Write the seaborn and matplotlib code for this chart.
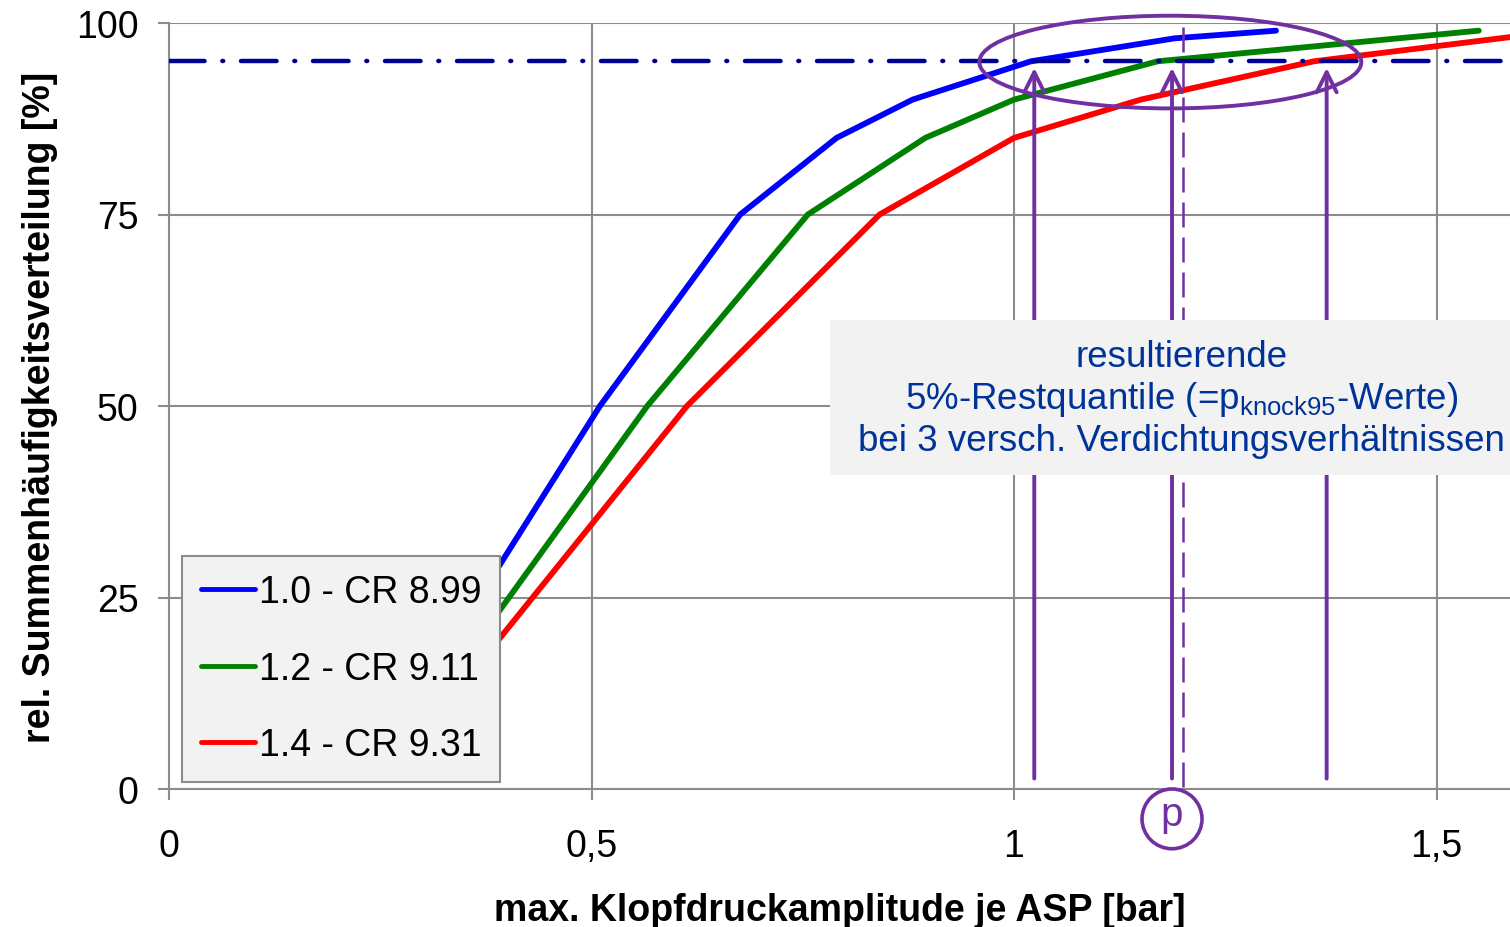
import matplotlib
matplotlib.use("Agg")
import matplotlib.pyplot as plt
import seaborn as sns
from matplotlib.patches import Ellipse, Rectangle

# curve data (first point is hidden behind the legend)
x_cr899 = [0.35, 0.51, 0.676, 0.79, 0.88, 1.02, 1.19, 1.31]
y_cr899 = [22, 50, 75, 85, 90, 95, 98, 99]
x_cr911 = [0.35, 0.566, 0.756, 0.895, 1.0, 1.17, 1.55]
y_cr911 = [17, 50, 75, 85, 90, 95, 99]
x_cr931 = [0.35, 0.613, 0.841, 1.0, 1.15, 1.355, 1.59]
y_cr931 = [14, 50, 75, 85, 90, 95, 98.2]
labels = ["1.0 - CR 8.99", "1.2 - CR 9.11", "1.4 - CR 9.31"]
colors = ["#0000FF", "#008000", "#FF0000"]

quantile_level = 95
p_knock95 = [1.024, 1.187, 1.37]
p_mark = 1.2

xticks = [0, 0.5, 1, 1.5]
xticklabels = ["0", "0,5", "1", "1,5"]
yticks = [0, 25, 50, 75, 100]

purple = "#7030A0"
navy = "#000096"
textblue = "#003399"
grey = "#8C8C8C"

sns.set_style("white")
plt.rcParams["font.family"] = ["Liberation Sans", "DejaVu Sans"]
plt.rcParams["mathtext.fontset"] = "custom"
plt.rcParams["mathtext.rm"] = "Liberation Sans"
plt.rcParams["mathtext.it"] = "Liberation Sans"
plt.rcParams["text.color"] = "black"
plt.rcParams["axes.labelcolor"] = "black"

fs = 27

fig = plt.figure(figsize=(15.1, 9.28), dpi=100)
ax = fig.add_axes([169 / 1510, 1 - 790 / 928, 1 - 169 / 1510, (790 - 24) / 928])

for xs, ys, lab, col in zip([x_cr899, x_cr911, x_cr931],
                            [y_cr899, y_cr911, y_cr931], labels, colors):
    sns.lineplot(x=xs, y=ys, color=col, lw=4.2, label=lab, ax=ax,
                 sort=False, estimator=None, zorder=3)

# 95 % line
ax.axhline(quantile_level, color=navy, lw=3.2, dashes=(8, 4, 0.2, 4),
           dash_capstyle="round", zorder=4)

# arrows to the 95 % crossings
for px in p_knock95:
    ax.annotate("", xy=(px, quantile_level - 0.5), xytext=(px, 1),
                arrowprops=dict(arrowstyle="->", color=purple, lw=2.8,
                                mutation_scale=36), zorder=5)

ax.plot([p_mark, p_mark], [99.5, -0.3], color=purple, lw=1.8,
        dashes=(10, 4), clip_on=False, zorder=5)

ax.add_patch(Ellipse((1.185, 94.9), 0.452, 12.1, fill=False, ec=purple,
                     lw=2.8, clip_on=False, zorder=6))

# circled p below the axis
ax.add_patch(Ellipse((1.187, -3.9), 0.071, 7.8, fill=False, ec=purple,
                     lw=2.6, clip_on=False, zorder=6))
ax.text(1.187, -3.2, "p", color=purple, fontsize=29, ha="center",
        va="center", clip_on=False)

# annotation box
ax.add_patch(Rectangle((0.782, 41), 0.9, 20.2, fc="#F2F2F2", ec="none",
                       zorder=7))
ax.text(1.198, 51.0, "resultierende\n5%-Restquantile (=p$_{\\mathrm{knock95}}$-Werte)\n"
        "bei 3 versch. Verdichtungsverhältnissen",
        color=textblue, fontsize=26.5, ha="center", va="center",
        linespacing=1.18, zorder=8)

ax.set_xlim(0, 1341 / 845)
ax.set_ylim(0, 100)
ax.set_xticks(xticks)
ax.set_xticklabels(xticklabels)
ax.set_yticks(yticks)
ax.grid(True, color=grey, lw=1.5)
ax.set_axisbelow(True)
for s in ["top", "right"]:
    ax.spines[s].set_visible(False)
for s in ["left", "bottom"]:
    ax.spines[s].set_color(grey)
    ax.spines[s].set_linewidth(1.5)
ax.tick_params(axis="both", labelsize=fs, colors=grey, labelcolor="black",
               length=8, width=1.5, direction="out", bottom=True, left=True)
ax.tick_params(axis="x", pad=20)
ax.tick_params(axis="y", pad=14)

ax.set_xlabel("max. Klopfdruckamplitude je ASP [bar]", fontsize=fs,
              fontweight="bold", labelpad=20)
ax.set_ylabel("rel. Summenhäufigkeitsverteilung [%]", fontsize=fs,
              fontweight="bold", labelpad=13)

leg = ax.legend(loc="lower left", bbox_to_anchor=(0.0097, 0.009),
                borderaxespad=0, fontsize=fs, handlelength=1.45,
                handletextpad=0.1, labelspacing=1.08, fancybox=False,
                framealpha=1, facecolor="#F2F2F2", edgecolor=grey,
                borderpad=0.5)
leg.get_frame().set_linewidth(1.5)
leg.set_zorder(9)
for h in leg.get_lines():
    h.set_linewidth(3.5)
for t in leg.get_texts():
    t.set_color("black")

fig.savefig("out.png", dpi=100)
